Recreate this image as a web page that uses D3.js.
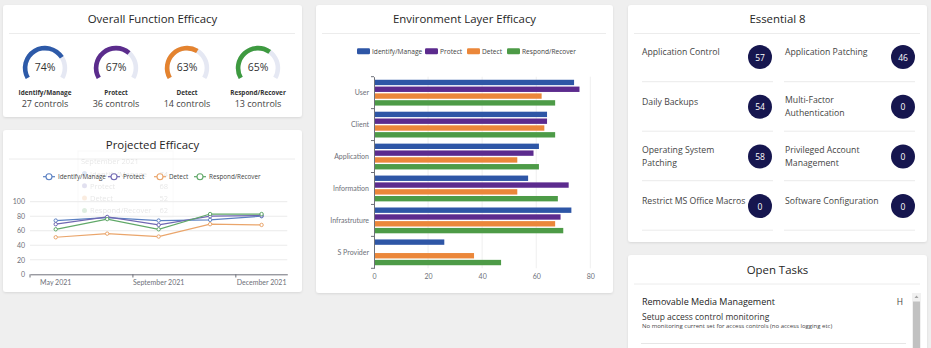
<!DOCTYPE html>
<html><head><meta charset="utf-8">
<script src="https://cdn.jsdelivr.net/npm/d3@7/dist/d3.min.js"></script>
<style>
html,body{margin:0;padding:0;background:#efefef;}
svg{display:block;}
text{font-family:"Open Sans",sans-serif;}
.ax text{font-family:Lato,"Open Sans",sans-serif;}
</style></head>
<body><svg id="c" width="931" height="348"></svg>
<script>
// ---------- DATA ----------
const functionNames = ["Identify/Manage","Protect","Detect","Respond/Recover"];
const functionEfficacy = [74,67,63,65];
const functionControls = [27,36,14,13];

const months = ["May 2021","July 2021","September 2021","November 2021","December 2021"];
const projIdentify = [74,78,74,75,80];
const projProtect  = [69,79,68,80,81];
const projDetect   = [51,56,52,69,68];
const projRespond  = [62,76,62,83,83];
const projTicks = [0,20,40,60,80,100];
const tooltipMonth = "September 2021";

const layers = ["User","Client","Application","Information","Infrastruture","S Provider"];
const layerIdentify = [74,64,61,57,73,26];
const layerProtect  = [76,64,59,72,69,0];
const layerDetect   = [62,63,53,53,67,37];
const layerRespond  = [67,67,61,68,70,47];
const layerTicks = [0,20,40,60,80];

const e8Names = ["Application Control","Application Patching","Daily Backups","Multi-Factor\nAuthentication","Operating System\nPatching","Privileged Account\nManagement","Restrict MS Office Macros","Software Configuration"];
const e8Values = [57,46,54,0,58,0,0,0];

const taskTitle = "Removable Media Management";
const taskPriority = "H";
const taskName = "Setup access control monitoring";
const taskDesc = "No monitoring current set for access controls (no access logging etc)";

// ---------- STYLE ----------
const gaugeColors = ["#2d5aa8","#5b2c8c","#e4832f","#3e9a40"];
const barColors = ["#2e56a6","#5c2b8e","#eb873a","#4d9b47"];
const lineColors = ["#5b80c2","#7068b2","#eaa56b","#60a868"];
const axisGray = "#6e7079";

const svg = d3.select("#c");
const defs = svg.append("defs");
const f = defs.append("filter").attr("id","sh").attr("x","-5%").attr("y","-5%").attr("width","110%").attr("height","115%");
f.append("feDropShadow").attr("dx",0).attr("dy",1).attr("stdDeviation",1.2).attr("flood-color","#000").attr("flood-opacity",0.10);

svg.append("rect").attr("width",931).attr("height",348).attr("fill","#efefef");

function card(x,y,w,h,title,ty){
  svg.append("rect").attr("x",x).attr("y",y).attr("width",w).attr("height",h).attr("rx",3)
    .attr("fill","#fff").attr("filter","url(#sh)");
  svg.append("text").attr("x",x+w/2).attr("y",ty).attr("text-anchor","middle").attr("dominant-baseline","central")
    .attr("font-size",11.4).attr("font-weight",500).style("fill","#262626").text(title);
  svg.append("line").attr("x1",x+6).attr("x2",x+w-7).attr("y1",ty+15).attr("y2",ty+15)
    .attr("stroke","#ececec").attr("stroke-width",1);
}

// ---------- Card 1: gauges ----------
card(3,5,299,112,"Overall Function Efficacy",18.5);
const gx = d3.scaleLinear().domain([0,3]).range([45,258]);
const ga = d3.scaleLinear().domain([0,100]).range([-2*Math.PI/3, 2*Math.PI/3]);
const arc = d3.arc().innerRadius(17.6).outerRadius(22.2);
functionNames.forEach((n,i)=>{
  const g = svg.append("g").attr("transform",`translate(${gx(i)},68)`);
  g.append("path").attr("d",arc({startAngle:ga(0),endAngle:ga(100)})).attr("fill","#e5e8f3");
  g.append("path").attr("d",arc({startAngle:ga(0),endAngle:ga(functionEfficacy[i])})).attr("fill",gaugeColors[i]);
  g.append("text").attr("y",-1.5).attr("text-anchor","middle").attr("dominant-baseline","central")
    .attr("font-size",10.5).attr("font-weight",500).style("fill","#333").text(functionEfficacy[i]+"%");
  svg.append("text").attr("x",gx(i)).attr("y",92.5).attr("text-anchor","middle").attr("dominant-baseline","central")
    .attr("font-size",6.4).attr("font-weight",700).style("fill","#333").text(n);
  svg.append("text").attr("x",gx(i)).attr("y",103).attr("text-anchor","middle").attr("dominant-baseline","central")
    .attr("font-size",9).style("fill","#444").text(functionControls[i]+" controls");
});

// ---------- Card 2: projected efficacy ----------
card(3,130,299,162,"Projected Efficacy",144);
const px = d3.scaleBand().domain(months).range([30,287.3]);
const py = d3.scaleLinear().domain([0,100]).range([274.3,201.7]);
const cx = m => px(m)+px.bandwidth()/2;

// faint remnant of a fading tooltip (as in the reference screenshot)
const tt = svg.append("g").attr("opacity",0.2);
tt.append("rect").attr("x",78).attr("y",151).attr("width",95).attr("height",66).attr("fill","none").attr("stroke","#e3e3e3");
tt.append("text").attr("x",81).attr("y",161).attr("font-size",7.5).style("fill","#888").attr("dominant-baseline","central").text(tooltipMonth);
const ttVals = [projIdentify,projProtect,projDetect,projRespond].map(a=>a[months.indexOf(tooltipMonth)]);
functionNames.forEach((n,i)=>{
  const yy = 173.5+i*12.3;
  tt.append("circle").attr("cx",84.5).attr("cy",yy).attr("r",2.5).attr("fill",lineColors[i]);
  tt.append("text").attr("x",90).attr("y",yy).attr("font-size",7.5).style("fill","#888").attr("dominant-baseline","central").text(n);
  tt.append("text").attr("x",168).attr("y",yy).attr("font-size",7.5).style("fill","#888").attr("text-anchor","end").attr("dominant-baseline","central").text(ttVals[i]);
});

// grid
svg.append("g").selectAll("line").data(projTicks.slice(1)).join("line")
  .attr("x1",30).attr("x2",287.3).attr("y1",d=>py(d)).attr("y2",d=>py(d)).attr("stroke","#ebebeb");
const pyAxis = svg.append("g").attr("class","ax").attr("transform","translate(30,0)")
  .call(d3.axisLeft(py).tickValues(projTicks).tickSize(0).tickPadding(5));
pyAxis.select(".domain").remove();
pyAxis.selectAll("text").attr("font-size",7).style("fill",axisGray);
const pxAxis = svg.append("g").attr("class","ax").attr("transform","translate(0,274.3)")
  .call(d3.axisBottom(px).tickValues(months.filter((m,i)=>i%2===0)).tickSize(0).tickPadding(6));
pxAxis.select(".domain").attr("stroke",axisGray).attr("stroke-width",1);
pxAxis.selectAll("text").attr("font-size",7).style("fill",axisGray);
svg.append("g").selectAll("line").data(months.filter((m,i)=>i%2===0)).join("line")
  .attr("x1",d=>px(d)).attr("x2",d=>px(d)).attr("y1",274.3).attr("y2",277.5).attr("stroke",axisGray);

const projSeries = [projIdentify,projProtect,projDetect,projRespond];
const line = d3.line().x((d,i)=>cx(months[i])).y(d=>py(d));
projSeries.forEach((s,k)=>{
  svg.append("path").attr("d",line(s)).attr("fill","none").attr("stroke",lineColors[k]).attr("stroke-width",1.2);
});
projSeries.forEach((s,k)=>{
  svg.append("g").selectAll("circle").data(s).join("circle")
    .attr("cx",(d,i)=>cx(months[i])).attr("cy",d=>py(d)).attr("r",1.7)
    .attr("fill","#fff").attr("stroke",lineColors[k]).attr("stroke-width",1);
});
// legend
const plX = [43,108,154,194];
functionNames.forEach((n,i)=>{
  const g = svg.append("g").attr("transform",`translate(${plX[i]},176.7)`);
  g.append("line").attr("x1",0).attr("x2",12).attr("stroke",lineColors[i]).attr("stroke-width",1.2);
  g.append("circle").attr("cx",6).attr("r",3).attr("fill","#fff").attr("stroke",lineColors[i]).attr("stroke-width",1.1);
  g.append("text").attr("x",15).attr("dominant-baseline","central").attr("font-size",6.3)
    .attr("font-family","Lato,sans-serif").style("fill","#444").text(n);
});

// ---------- Card 3: environment layer efficacy ----------
card(316,5,297,288,"Environment Layer Efficacy",18.5);
const bx = d3.scaleLinear().domain([0,80]).range([374,590.3]);
const by = d3.scaleBand().domain(layers).range([76.7,268.3]);
const bSub = d3.scaleBand().domain(functionNames).range([0,by.bandwidth()]).paddingInner(0.21).paddingOuter(0.45);
svg.append("g").selectAll("line").data(layerTicks.slice(1)).join("line")
  .attr("x1",d=>bx(d)).attr("x2",d=>bx(d)).attr("y1",76.7).attr("y2",268.3).attr("stroke","#efefef");
const layerSeries = [layerIdentify,layerProtect,layerDetect,layerRespond];
layers.forEach((l,j)=>{
  functionNames.forEach((n,k)=>{
    const v = layerSeries[k][j];
    if(v>0) svg.append("rect").attr("x",bx(0)).attr("y",by(l)+bSub(n)).attr("width",bx(v)-bx(0))
      .attr("height",bSub.bandwidth()).attr("fill",barColors[k]);
  });
});
const byAxis = svg.append("g").attr("class","ax").attr("transform","translate(374,0)")
  .call(d3.axisLeft(by).tickSize(0).tickPadding(5));
byAxis.select(".domain").attr("stroke",axisGray);
byAxis.selectAll("text").attr("font-size",7).style("fill",axisGray);
svg.append("g").selectAll("line").data(layers.map(l=>by(l)).concat([by.range()[1]])).join("line")
  .attr("x1",371).attr("x2",374).attr("y1",d=>d).attr("y2",d=>d).attr("stroke",axisGray);
const bxAxis = svg.append("g").attr("class","ax").attr("transform","translate(0,268.3)")
  .call(d3.axisBottom(bx).tickValues(layerTicks).tickSize(0).tickPadding(6));
bxAxis.select(".domain").remove();
bxAxis.selectAll("text").attr("font-size",7).style("fill",axisGray);
// legend
const blX = [357,425,467,507];
functionNames.forEach((n,i)=>{
  const g = svg.append("g").attr("transform",`translate(${blX[i]},51.3)`);
  g.append("rect").attr("x",0).attr("y",-3).attr("width",13).attr("height",6).attr("rx",1.2).attr("fill",barColors[i]);
  g.append("text").attr("x",15).attr("dominant-baseline","central").attr("font-size",6.6)
    .attr("font-family","Lato,sans-serif").style("fill","#444").text(n);
});

// ---------- Card 4: Essential 8 ----------
card(628,5,299,237,"Essential 8",18.5);
e8Names.forEach((n,i)=>{
  const col = i%2, row = Math.floor(i/2);
  const tx = col? 785:642, ccx = col? 903:760;
  const lines = n.split("\n");
  const ccy = 57+row*49.7;
  const ty0 = lines.length>1 ? ccy-6.5 : ccy-5;
  lines.forEach((t,k)=>{
    svg.append("text").attr("x",tx).attr("y",ty0+k*12.6).attr("dominant-baseline","central")
      .attr("font-size",8.7).style("fill","#444").text(t);
  });
  svg.append("circle").attr("cx",ccx).attr("cy",ccy).attr("r",12).attr("fill","#16164f");
  svg.append("text").attr("x",ccx).attr("y",ccy).attr("text-anchor","middle").attr("dominant-baseline","central")
    .attr("font-size",8.5).attr("font-weight",500).style("fill","#fff").text(e8Values[i]);
  svg.append("line").attr("x1",col?784:642).attr("x2",col?915:773).attr("y1",81.7+row*49.5).attr("y2",81.7+row*49.5)
    .attr("stroke","#ebebeb");
});

// ---------- Card 5: Open tasks ----------
card(628,255,299,110,"Open Tasks",269);
svg.append("text").attr("x",642).attr("y",301.7).attr("dominant-baseline","central").attr("font-size",9).attr("font-weight",500).style("fill","#222").text(taskTitle);
svg.append("text").attr("x",900).attr("y",301.7).attr("text-anchor","middle").attr("dominant-baseline","central").attr("font-size",8.5).style("fill","#444").text(taskPriority);
svg.append("text").attr("x",642).attr("y",316).attr("dominant-baseline","central").attr("font-size",8.5).style("fill","#333").text(taskName);
svg.append("text").attr("x",642).attr("y",326).attr("dominant-baseline","central").attr("font-size",6).style("fill","#444").text(taskDesc);
svg.append("line").attr("x1",641).attr("x2",906).attr("y1",343.5).attr("y2",343.5).attr("stroke","#e6e6e6");
svg.append("rect").attr("x",912).attr("y",293).attr("width",9).attr("height",60).attr("fill","#f1f1f1");
svg.append("rect").attr("x",913).attr("y",301.5).attr("width",7).attr("height",60).attr("fill","#c1c1c1");
svg.append("path").attr("d","M914.5,298 L916.5,295.5 L918.5,298 Z").attr("fill","#a3a3a3");
</script></body></html>
